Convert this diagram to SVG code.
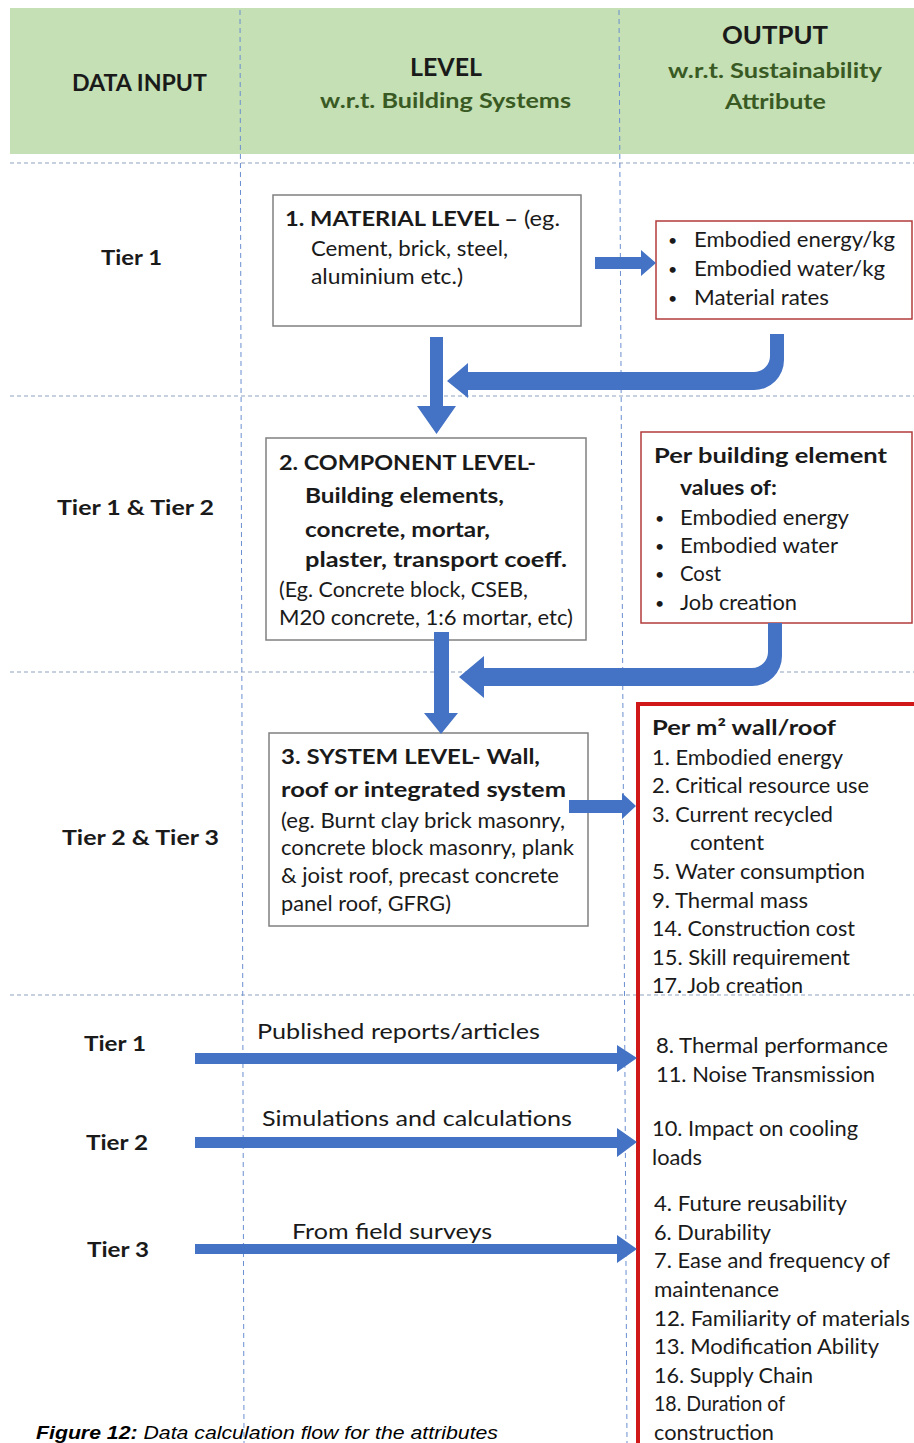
<svg xmlns="http://www.w3.org/2000/svg" width="914" height="1443" viewBox="0 0 914 1443">
<style>
text{font-family:Lato,"Open Sans","DejaVu Sans",sans-serif;fill:#1a1a1a;font-size:21px}
.b{font-weight:bold}
.bu{font-size:16px}
.h{font-weight:bold;font-size:22px}
.hg{font-weight:bold;font-size:21px;fill:#3a5a24}
.hl{font-weight:bold;font-size:25px}
.tier{font-weight:bold;font-size:21px}
.bx{fill:#fff;stroke:#808080;stroke-width:1.5}
.rb{fill:#fff;stroke:#b23b3b;stroke-width:1.5}
.big{fill:none;stroke:#d01818;stroke-width:4}
.arr{fill:#4472c4}
.hd{stroke:#8ea2c0;stroke-width:1.2;stroke-dasharray:4 3;fill:none}
.vd{stroke:#6a8fd0;stroke-width:1;stroke-dasharray:5 4;fill:none}
.cap{font-family:"Liberation Sans",Arial,sans-serif;font-style:italic;font-size:19px;fill:#000}
</style>
<rect x="0" y="0" width="914" height="1443" fill="#fff"/>
<g id="header">
<rect x="10" y="8" width="904" height="146" fill="#c5e0b4"/>
<text class="h" x="72" y="91" textLength="135" lengthAdjust="spacingAndGlyphs">DATA INPUT</text>
<text class="hl" x="410" y="76" textLength="72" lengthAdjust="spacingAndGlyphs">LEVEL</text>
<text class="hg" x="320" y="108" textLength="251" lengthAdjust="spacingAndGlyphs">w.r.t. Building Systems</text>
<text class="hl" x="722" y="44" textLength="106" lengthAdjust="spacingAndGlyphs">OUTPUT</text>
<text class="hg" x="668" y="78" textLength="214" lengthAdjust="spacingAndGlyphs">w.r.t. Sustainability</text>
<text class="hg" x="725" y="109" textLength="101" lengthAdjust="spacingAndGlyphs">Attribute</text>
</g>
<g id="grid">
<line class="hd" x1="10" y1="163" x2="914" y2="163"/>
<line class="hd" x1="10" y1="396" x2="914" y2="396"/>
<line class="hd" x1="10" y1="672" x2="914" y2="672"/>
<line class="hd" x1="10" y1="995" x2="914" y2="995"/>
<line class="vd" x1="240" y1="10" x2="244" y2="1443"/>
<line class="vd" x1="619" y1="10" x2="627" y2="1443"/>
</g>
<g id="tier-labels">
<text class="tier" x="101" y="265" textLength="61" lengthAdjust="spacingAndGlyphs">Tier 1</text>
<text class="tier" x="57" y="515" textLength="157" lengthAdjust="spacingAndGlyphs">Tier 1 &amp; Tier 2</text>
<text class="tier" x="62" y="845" textLength="157" lengthAdjust="spacingAndGlyphs">Tier 2 &amp; Tier 3</text>
<text class="tier" x="84" y="1051" textLength="62" lengthAdjust="spacingAndGlyphs">Tier 1</text>
<text class="tier" x="86" y="1150" textLength="62" lengthAdjust="spacingAndGlyphs">Tier 2</text>
<text class="tier" x="87" y="1257" textLength="62" lengthAdjust="spacingAndGlyphs">Tier 3</text>
</g>
<g id="material-level">
<rect class="bx" x="273" y="195" width="308" height="131"/>
<text x="285" y="226" textLength="275" lengthAdjust="spacingAndGlyphs"><tspan class="b">1. MATERIAL LEVEL –</tspan> (eg.</text>
<text x="311" y="256" textLength="197" lengthAdjust="spacingAndGlyphs">Cement, brick, steel,</text>
<text x="311" y="284" textLength="152" lengthAdjust="spacingAndGlyphs">aluminium etc.)</text>
</g>
<g id="material-output">
<rect class="rb" x="656" y="221" width="256" height="98"/>
<text class="bu" x="668" y="246">•</text><text x="694" y="247" textLength="201" lengthAdjust="spacingAndGlyphs">Embodied energy/kg</text>
<text class="bu" x="668" y="275">•</text><text x="694" y="276" textLength="191" lengthAdjust="spacingAndGlyphs">Embodied water/kg</text>
<text class="bu" x="668" y="304">•</text><text x="694" y="305" textLength="135" lengthAdjust="spacingAndGlyphs">Material rates</text>
</g>
<g id="component-level">
<rect class="bx" x="266" y="438" width="320" height="202"/>
<text class="b" x="279" y="470" textLength="257" lengthAdjust="spacingAndGlyphs">2. COMPONENT LEVEL-</text>
<text class="b" x="305" y="503" textLength="199" lengthAdjust="spacingAndGlyphs">Building elements,</text>
<text class="b" x="305" y="537" textLength="185" lengthAdjust="spacingAndGlyphs">concrete, mortar,</text>
<text class="b" x="305" y="567" textLength="262" lengthAdjust="spacingAndGlyphs">plaster, transport coeff.</text>
<text x="279" y="597" textLength="249" lengthAdjust="spacingAndGlyphs">(Eg. Concrete block, CSEB,</text>
<text x="279" y="625" textLength="294" lengthAdjust="spacingAndGlyphs">M20 concrete, 1:6 mortar, etc)</text>
</g>
<g id="component-output">
<rect class="rb" x="641" y="432" width="271" height="191"/>
<text class="b" x="654" y="463" textLength="233" lengthAdjust="spacingAndGlyphs">Per building element</text>
<text class="b" x="680" y="495" textLength="97" lengthAdjust="spacingAndGlyphs">values of:</text>
<text class="bu" x="655" y="524">•</text><text x="680" y="525" textLength="169" lengthAdjust="spacingAndGlyphs">Embodied energy</text>
<text class="bu" x="655" y="552">•</text><text x="680" y="553" textLength="158" lengthAdjust="spacingAndGlyphs">Embodied water</text>
<text class="bu" x="655" y="580">•</text><text x="680" y="581" textLength="41" lengthAdjust="spacingAndGlyphs">Cost</text>
<text class="bu" x="655" y="609">•</text><text x="680" y="610" textLength="117" lengthAdjust="spacingAndGlyphs">Job creation</text>
</g>
<g id="system-level">
<rect class="bx" x="269" y="733" width="319" height="193"/>
<text class="b" x="281" y="764" textLength="259" lengthAdjust="spacingAndGlyphs">3. SYSTEM LEVEL- Wall,</text>
<text class="b" x="281" y="797" textLength="285" lengthAdjust="spacingAndGlyphs">roof or integrated system</text>
<text x="281" y="828" textLength="284" lengthAdjust="spacingAndGlyphs">(eg. Burnt clay brick masonry,</text>
<text x="281" y="855" textLength="293" lengthAdjust="spacingAndGlyphs">concrete block masonry, plank</text>
<text x="281" y="883" textLength="278" lengthAdjust="spacingAndGlyphs">&amp; joist roof, precast concrete</text>
<text x="281" y="911" textLength="170" lengthAdjust="spacingAndGlyphs">panel roof, GFRG)</text>
</g>
<g id="system-output">
<rect class="big" x="638" y="704" width="300" height="800"/>
<text class="b" x="652" y="735" textLength="184" lengthAdjust="spacingAndGlyphs">Per m² wall/roof</text>
<text x="652" y="765" textLength="191" lengthAdjust="spacingAndGlyphs">1. Embodied energy</text>
<text x="652" y="793" textLength="217" lengthAdjust="spacingAndGlyphs">2. Critical resource use</text>
<text x="652" y="822" textLength="181" lengthAdjust="spacingAndGlyphs">3. Current recycled</text>
<text x="690" y="850" textLength="74" lengthAdjust="spacingAndGlyphs">content</text>
<text x="652" y="879" textLength="213" lengthAdjust="spacingAndGlyphs">5. Water consumption</text>
<text x="652" y="908" textLength="156" lengthAdjust="spacingAndGlyphs">9. Thermal mass</text>
<text x="652" y="936" textLength="203" lengthAdjust="spacingAndGlyphs">14. Construction cost</text>
<text x="652" y="965" textLength="198" lengthAdjust="spacingAndGlyphs">15. Skill requirement</text>
<text x="652" y="993" textLength="151" lengthAdjust="spacingAndGlyphs">17. Job creation</text>
<text x="656" y="1053" textLength="232" lengthAdjust="spacingAndGlyphs">8. Thermal performance</text>
<text x="656" y="1082" textLength="219" lengthAdjust="spacingAndGlyphs">11. Noise Transmission</text>
<text x="652" y="1136" textLength="206" lengthAdjust="spacingAndGlyphs">10. Impact on cooling</text>
<text x="652" y="1165" textLength="50" lengthAdjust="spacingAndGlyphs">loads</text>
<text x="654" y="1211" textLength="193" lengthAdjust="spacingAndGlyphs">4. Future reusability</text>
<text x="654" y="1240" textLength="117" lengthAdjust="spacingAndGlyphs">6. Durability</text>
<text x="654" y="1268" textLength="236" lengthAdjust="spacingAndGlyphs">7. Ease and frequency of</text>
<text x="654" y="1297" textLength="125" lengthAdjust="spacingAndGlyphs">maintenance</text>
<text x="654" y="1326" textLength="256" lengthAdjust="spacingAndGlyphs">12. Familiarity of materials</text>
<text x="654" y="1354" textLength="225" lengthAdjust="spacingAndGlyphs">13. Modification Ability</text>
<text x="654" y="1383" textLength="159" lengthAdjust="spacingAndGlyphs">16. Supply Chain</text>
<text x="654" y="1411" textLength="131" lengthAdjust="spacingAndGlyphs">18. Duration of</text>
<text x="654" y="1440" textLength="120" lengthAdjust="spacingAndGlyphs">construction</text>
</g>
<g id="connectors">
<path class="arr" d="M595,257 H641 V250 L656,263 L641,276 V269 H595 Z"/>
<path class="arr" d="M770,334 H784 V360 A30,30 0 0 1 754,390 H468 V398 L447,381 L468,363 V372 H754 A16,16 0 0 0 770,356 Z"/>
<path class="arr" d="M430,337 H443 V406 H456 L436.5,434 L417,406 H430 Z"/>
<path class="arr" d="M768,623 H782 V656 A30,30 0 0 1 752,686 H484 V698 L459,677 L484,656 V668 H752 A16,16 0 0 0 768,652 Z"/>
<path class="arr" d="M434,632 H449 V713 H458 L441,734 L424,713 H434 Z"/>
<path class="arr" d="M569,800 H622 V793 L636,806 L622,819 V813 H569 Z"/>
<path class="arr" d="M195,1053 H617 V1045 L637,1058 L617,1072 V1064 H195 Z"/>
<path class="arr" d="M195,1137 H617 V1128 L637,1142 L617,1157 V1148 H195 Z"/>
<path class="arr" d="M195,1244 H617 V1235 L637,1249 L617,1263 V1254 H195 Z"/>
<text x="257" y="1039" textLength="283" lengthAdjust="spacingAndGlyphs">Published reports/articles</text>
<text x="262" y="1126" textLength="310" lengthAdjust="spacingAndGlyphs">Simulations and calculations</text>
<text x="292" y="1239" textLength="200" lengthAdjust="spacingAndGlyphs">From field surveys</text>
</g>
<g id="caption">
<text class="cap" x="36" y="1439" textLength="462" lengthAdjust="spacingAndGlyphs"><tspan font-weight="bold">Figure 12:</tspan> Data calculation flow for the attributes</text>
</g>
</svg>
